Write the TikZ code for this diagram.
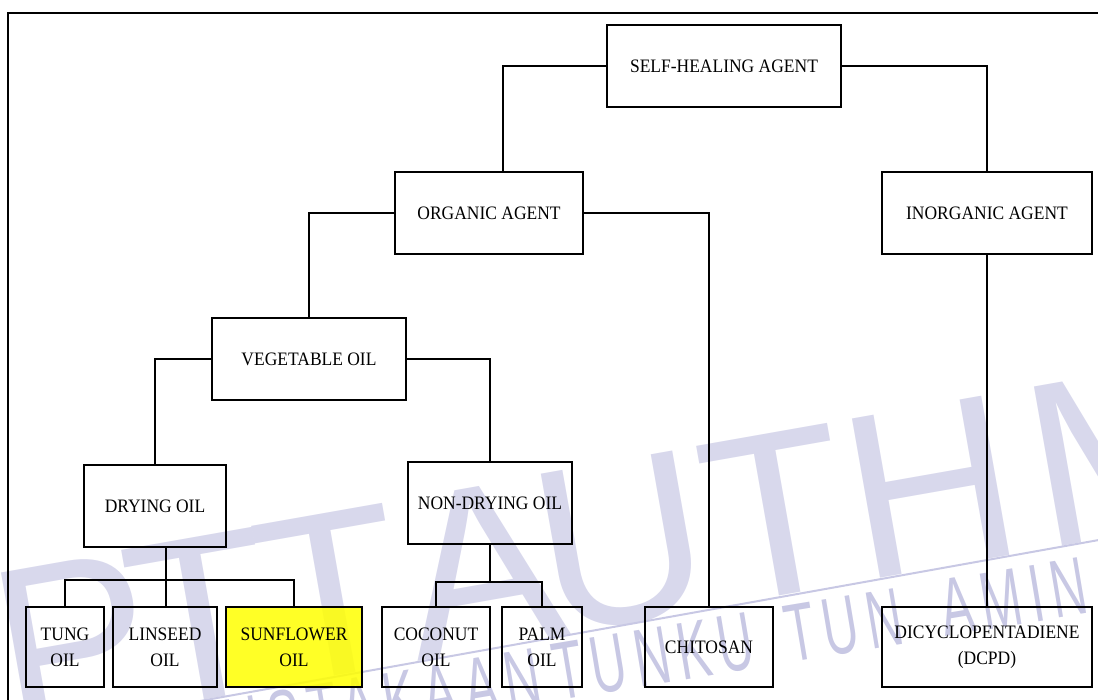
\documentclass[tikz,border=0pt]{standalone}
\usepackage{fontspec}
\setmainfont[FakeStretch=0.92]{Liberation Serif}
\newfontfamily\wmbigfont{Liberation Sans}
\newfontfamily\wmthinfont[FakeStretch=0.6,LetterSpace=10]{Liberation Sans}
\newcommand\lblfont{\fontsize{19}{26}\selectfont}
\definecolor{wmbig}{RGB}{216,216,236}
\definecolor{wmthin}{RGB}{200,200,228}
\definecolor{sunyellow}{RGB}{255,255,0}
\begin{document}
\begin{tikzpicture}[x=1pt,y=-1pt,
  box/.style={draw=black, line width=2pt, inner sep=0pt, align=center, font=\lblfont},
  conn/.style={draw=black, line width=2pt},
  wmL/.style={font={\wmbigfont\fontsize{235}{235}\selectfont}, text=wmbig, rotate=10, anchor=base, inner sep=0pt},
  wmW/.style={font={\wmthinfont\fontsize{82}{82}\selectfont}, text=wmthin, rotate=9.5, inner sep=0pt}]
\useasboundingbox (0,0) rectangle (1098,700);
\clip (0,0) rectangle (1098,700);
% watermark
\node[wmL] (wP) at (88,722) {P};
\node[wmL] (wT1) at (215,698) {T};
\node[wmL] (wT2) at (345,674) {T};
\node[wmL] (wA) at (495,648) {A};
\node[wmL] (wU) at (635,622) {U};
\node[wmL] (wT3) at (790,594) {T};
\node[wmL] (wH) at (945,567) {H};
\node[wmL] (wM) at (1140,533) {M};
\node[wmW, anchor=base east] (ww1) at (545,704) {PERPUSTAKAAN};
\node[wmW, anchor=base west] (ww2) at (558,701) {TUNKU};
\node[wmW, anchor=base west] (ww3) at (790,663) {TUN};
\node[wmW, anchor=base west] (ww4) at (945,637) {AMINAH};
\coordinate (wl1) at (150,710);
\coordinate (wl2) at (1110,538);
\draw[wmthin, line width=2pt] (wl1) -- (wl2);
% boxes
\node[box, minimum width=234pt, minimum height=82pt] (sh) at (724,66) {SELF-HEALING AGENT};
\node[box, minimum width=188pt, minimum height=82pt] (org) at (489,213) {ORGANIC AGENT};
\node[box, minimum width=210pt, minimum height=82pt] (inorg) at (987,213) {INORGANIC AGENT};
\node[box, minimum width=194pt, minimum height=82pt] (veg) at (309,359) {VEGETABLE OIL};
\node[box, minimum width=142pt, minimum height=82pt] (dry) at (155,506) {DRYING OIL};
\node[box, minimum width=164pt, minimum height=82pt] (ndry) at (490,503) {NON-DRYING OIL};
\node[box, minimum width=78pt, minimum height=80pt] (tung) at (65,647) {TUNG\\OIL};
\node[box, minimum width=104pt, minimum height=80pt] (lin) at (165,647) {LINSEED\\OIL};
\node[box, minimum width=136pt, minimum height=80pt, fill=sunyellow, fill opacity=0.85, text opacity=1] (sun) at (294,647) {SUNFLOWER\\OIL};
\node[box, minimum width=108pt, minimum height=80pt] (coco) at (436,647) {COCONUT\\OIL};
\node[box, minimum width=80pt, minimum height=80pt] (palm) at (542,647) {PALM\\OIL};
\node[box, minimum width=128pt, minimum height=80pt] (chit) at (709,647) {CHITOSAN};
\node[box, minimum width=210pt, minimum height=80pt] (dcpd) at (987,647) {DICYCLOPENTADIENE\\(DCPD)};
% connectors
\draw[conn] (sh.west) -| ([xshift=14pt]org.north);
\draw[conn] (sh.east) -| (inorg.north);
\draw[conn] (org.west) -| (veg.north);
\draw[conn] (org.east) -| (chit.north);
\draw[conn] (inorg.south) -- (dcpd.north);
\draw[conn] (veg.west) -| (dry.north);
\draw[conn] (veg.east) -| (ndry.north);
\coordinate (db) at (166,580);
\draw[conn] ([xshift=11pt]dry.south) -- ([xshift=11pt]dry.south |- lin.north);
\draw[conn] (tung.north) |- (db) -| (sun.north);
\coordinate (nb) at (490,582);
\draw[conn] (ndry.south) -- (nb);
\draw[conn] (coco.north) |- (nb) -| (palm.north);
% frame
\coordinate (f1) at (8,13);
\coordinate (f2) at (1120,720);
\draw[conn] (f1) rectangle (f2);
\end{tikzpicture}
\end{document}
